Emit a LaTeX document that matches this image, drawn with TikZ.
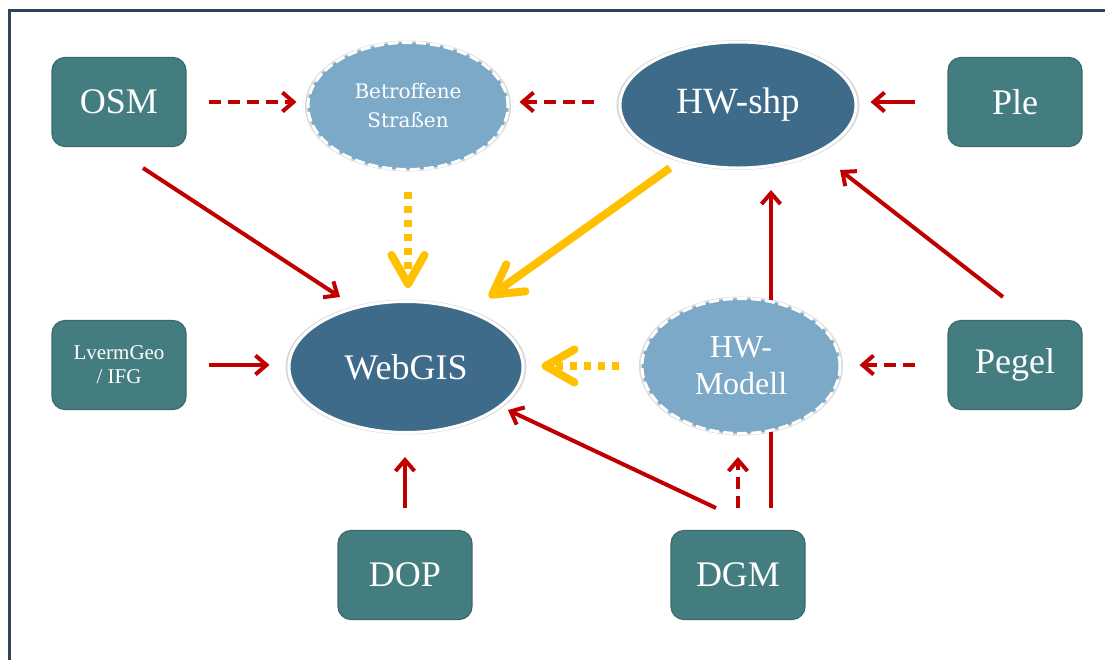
\documentclass[tikz,border=0pt]{standalone}
\usepackage{fontspec}
\setmainfont{Liberation Serif}
\newfontfamily\slabfont{DejaVu Serif}
\usetikzlibrary{shapes.geometric,arrows.meta,shadows}
\definecolor{cBox}{HTML}{447D80}
\definecolor{cBoxEdge}{HTML}{3A6A6C}
\definecolor{cDarkEll}{HTML}{3F6B8A}
\definecolor{cLightEll}{HTML}{7CA9C7}
\definecolor{cRed}{HTML}{C00000}
\definecolor{cYel}{HTML}{FFC000}
\definecolor{cFrame}{HTML}{2C4358}
\pgfdeclarelayer{bg}
\pgfsetlayers{bg,main}
\tikzset{
  srcbox/.style={draw=cBoxEdge, line width=1.2pt, fill=cBox, rounded corners=13pt,
    minimum width=134pt, minimum height=89pt, inner sep=0pt, text=white,
    align=center, font=\fontsize{36}{40}\selectfont},
  ellshadow/.style={general shadow={shadow scale=1.03, fill=black, opacity=0.15}},
  darkell/.style={ellipse, draw=white, line width=3pt, fill=cDarkEll, text=white,
    inner sep=0pt, ellshadow},
  lightell/.style={ellipse, draw=white, line width=3pt, dash pattern=on 10pt off 4pt,
    fill=cLightEll, text=white, align=center, inner sep=0pt, ellshadow},
  redarr/.style={draw=cRed, line width=4pt, -{Straight Barb[length=11pt,width=19pt]}},
  reddash/.style={redarr, dash pattern=on 12pt off 7pt},
  yelarr/.style={draw=cYel, line width=8pt, -{Straight Barb[length=29pt,width=33pt,round]}},
  yeldot/.style={yelarr, dash pattern=on 7pt off 7pt},
  frameline/.style={draw=cFrame, line width=3pt}
}
\begin{document}
\begin{tikzpicture}[x=1pt,y=-1pt]
\useasboundingbox (0,0) rectangle (1105,659);
\clip (0,0) rectangle (1105,659);

% source boxes
\node[srcbox] (osm) at (119,102) {OSM};
\node[srcbox] (ple) at (1015,102) {Ple};
\node[srcbox, font=\fontsize{21}{24}\selectfont] (lverm) at (119,365) {LvermGeo\\/ IFG};
\node[srcbox] (pegel) at (1015,365) {Pegel};
\node[srcbox] (dop) at (405,575) {DOP};
\node[srcbox] (dgm) at (738,575) {DGM};

% ellipses
\node[lightell, minimum width=200pt, minimum height=127pt,
  font=\slabfont\fontsize{20}{29}\selectfont] (betr) at (408,106) {Betroffene\\Straßen};
\node[darkell, minimum width=236pt, minimum height=126pt,
  font=\fontsize{37}{40}\selectfont] (hwshp) at (738,105) {HW-shp};
\node[darkell, minimum width=234pt, minimum height=131pt,
  font=\fontsize{36}{40}\selectfont] (webgis) at (406,367) {WebGIS};
\node[lightell, minimum width=198pt, minimum height=135pt,
  font=\fontsize{32}{37}\selectfont] (hwmod) at (741,366) {HW-\\Modell};

\begin{pgfonlayer}{bg}
\fill[white] (0,0) rectangle (1105,659);
\draw[frameline] (9,10) rectangle (1140,700);
\draw[reddash, shorten <=22pt, shorten >=10pt] (osm.east) -- (osm.east -| betr.west);
\draw[reddash, shorten <=25pt, shorten >=10pt] (ple.west -| hwshp.west) -- (ple.west -| betr.east);
\draw[redarr, shorten <=32pt, shorten >=13pt] (ple.west) -- (ple.west -| hwshp.east);
\draw[redarr] ([shift={(24,66)}]osm.center) -- ([shift={(-66,-70)}]webgis.center);
\draw[yeldot, shorten <=21pt, shorten >=12pt] (betr.south) -- (betr.south |- webgis.north);
\draw[yelarr] ([shift={(-68,63)}]hwshp.center) -- ([shift={(83,-70)}]webgis.center);
\draw[redarr, shorten <=22pt, shorten >=18pt] (lverm.east) -- (lverm.east -| webgis.west);
\draw[yeldot, shorten <=22pt, shorten >=17pt] (hwmod.west) -- (hwmod.west -| webgis.east);
\draw[reddash, shorten <=32pt, shorten >=18pt] (pegel.west) -- (pegel.west -| hwmod.east);
\draw[redarr] ([shift={(-12,-68)}]pegel.center) -- ([shift={(102,65)}]hwshp.center);
\draw[redarr] ([shift={(33,-67)}]dgm.center) -- ([shift={(33,85)}]hwshp.center);
\draw[redarr, shorten <=22pt, shorten >=23pt] (dop.north) -- (dop.north |- webgis.south);
\draw[redarr] ([shift={(-22,-67)}]dgm.center) -- ([shift={(102,43)}]webgis.center);
\draw[reddash, shorten <=22pt, shorten >=22pt] (dgm.north) -- (dgm.north |- hwmod.south);
\end{pgfonlayer}
\end{tikzpicture}
\end{document}
